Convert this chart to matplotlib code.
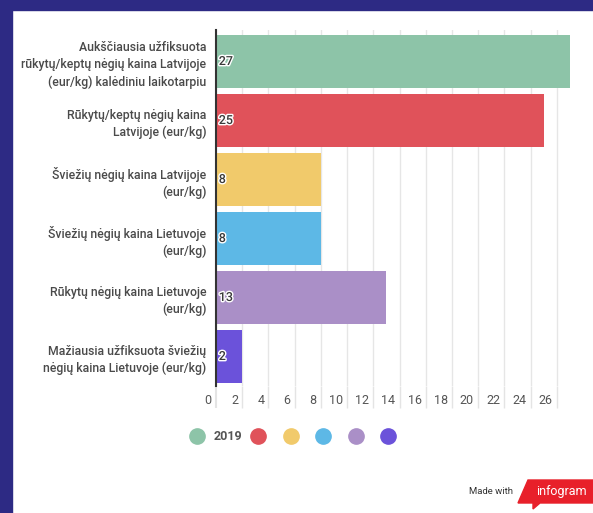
import matplotlib.pyplot as plt
import matplotlib.transforms as mtransforms
import matplotlib.patheffects as pe
from matplotlib.lines import Line2D
from matplotlib.patches import Rectangle, Polygon

# -- data
categories = [
    "Aukščiausia užfiksuota\nrūkytų/keptų nėgių kaina Latvijoje\n(eur/kg) kalėdiniu laikotarpiu",
    "Rūkytų/keptų nėgių kaina\nLatvijoje (eur/kg)",
    "Šviežių nėgių kaina Latvijoje\n(eur/kg)",
    "Šviežių nėgių kaina Lietuvoje\n(eur/kg)",
    "Rūkytų nėgių kaina Lietuvoje\n(eur/kg)",
    "Mažiausia užfiksuota šviežių\nnėgių kaina Lietuvoje (eur/kg)",
]
values = [27, 25, 8, 8, 13, 2]
colors = ["#8dc4a8", "#e0525a", "#f1ca6b", "#5db8e6", "#aa8fc7", "#6b52da"]
legend_labels = ["2019", "", "", "", "", ""]
xticks = list(range(0, 27, 2))

plt.rcParams['font.family'] = ['Roboto', 'DejaVu Sans']

W, H = 593, 513
fig = plt.figure(figsize=(W / 100, H / 100), dpi=100)
fig.patch.set_facecolor('white')

# -- navy frame
navy = '#2d2a84'
fig.patches.append(Rectangle((0, 0), 12 / W, 1, transform=fig.transFigure, color=navy, zorder=0))
fig.patches.append(Rectangle((0, 1 - 10 / H), 1, 10 / H, transform=fig.transFigure, color=navy, zorder=0))

ax = fig.add_axes([216 / W, (H - 386) / H, (570 - 216) / W, (386 - 30) / H])

ypos = list(range(len(values)))
ax.barh(ypos, values, height=0.9, color=colors, zorder=2)
ax.set_xlim(0, 27)
ax.set_ylim(5.5, -0.534)

for y, v in zip(ypos, values):
    t = ax.annotate(str(v), (0, y), xytext=(2, 0), textcoords='offset points',
                    ha='left', va='center', fontsize=9, color='#3a3a3a',
                    fontweight='medium', zorder=3)
    t.set_path_effects([pe.withStroke(linewidth=2, foreground='white')])

ax.set_yticks(ypos)
ax.set_yticklabels(categories, fontsize=8.8, color='#4a4a4a', fontweight='medium', linespacing=1.4)
ax.tick_params(axis='y', length=0, pad=7)

ax.set_xticks(xticks)
ax.tick_params(axis='x', direction='out', length=15.5, width=1, color='#e4e4e4',
               pad=-10, labelsize=9, labelcolor='#555555')
offset = mtransforms.ScaledTranslation(-3 / 72, 0, fig.dpi_scale_trans)
for lab in ax.get_xticklabels():
    lab.set_ha('right')
    lab.set_transform(lab.get_transform() + offset)
ax.xaxis.get_major_ticks()[0].tick1line.set_color('#333333')
ax.xaxis.get_major_ticks()[0].tick1line.set_markeredgewidth(1.5)

ax.grid(axis='x', color='#e6e6e6', linewidth=1, zorder=0)
ax.set_axisbelow(True)
for s in ['top', 'right', 'bottom']:
    ax.spines[s].set_visible(False)
ax.spines['left'].set_color('#333333')
ax.spines['left'].set_linewidth(1.5)

# -- legend
handles = [Line2D([], [], marker='o', linestyle='none', markersize=11,
                  markerfacecolor=c, markeredgecolor=c) for c in colors]
fig.legend(handles, legend_labels, loc='center', ncol=6, frameon=False,
           bbox_to_anchor=(297 / W, 1 - 437 / H),
           handlelength=1.2, handletextpad=0.7, columnspacing=0.7,
           labelcolor='#555555', prop={'weight': 'bold', 'size': 9})

# -- infogram badge
fig.text(513 / W, 1 - 491 / H, "Made with", ha='right', va='center', fontsize=6.8, color='#333333')
pts = [(518, 503), (528, 480), (593, 480), (593, 503), (540, 503), (533, 509), (533, 503)]
fig.patches.append(Polygon([(x / W, 1 - y / H) for x, y in pts], closed=True,
                           transform=fig.transFigure, color='#e8202a', zorder=1))
fig.text(561 / W, 1 - 491 / H, "infogram", ha='center', va='center', fontsize=9, color='white')

fig.savefig('out.png', dpi=100)
